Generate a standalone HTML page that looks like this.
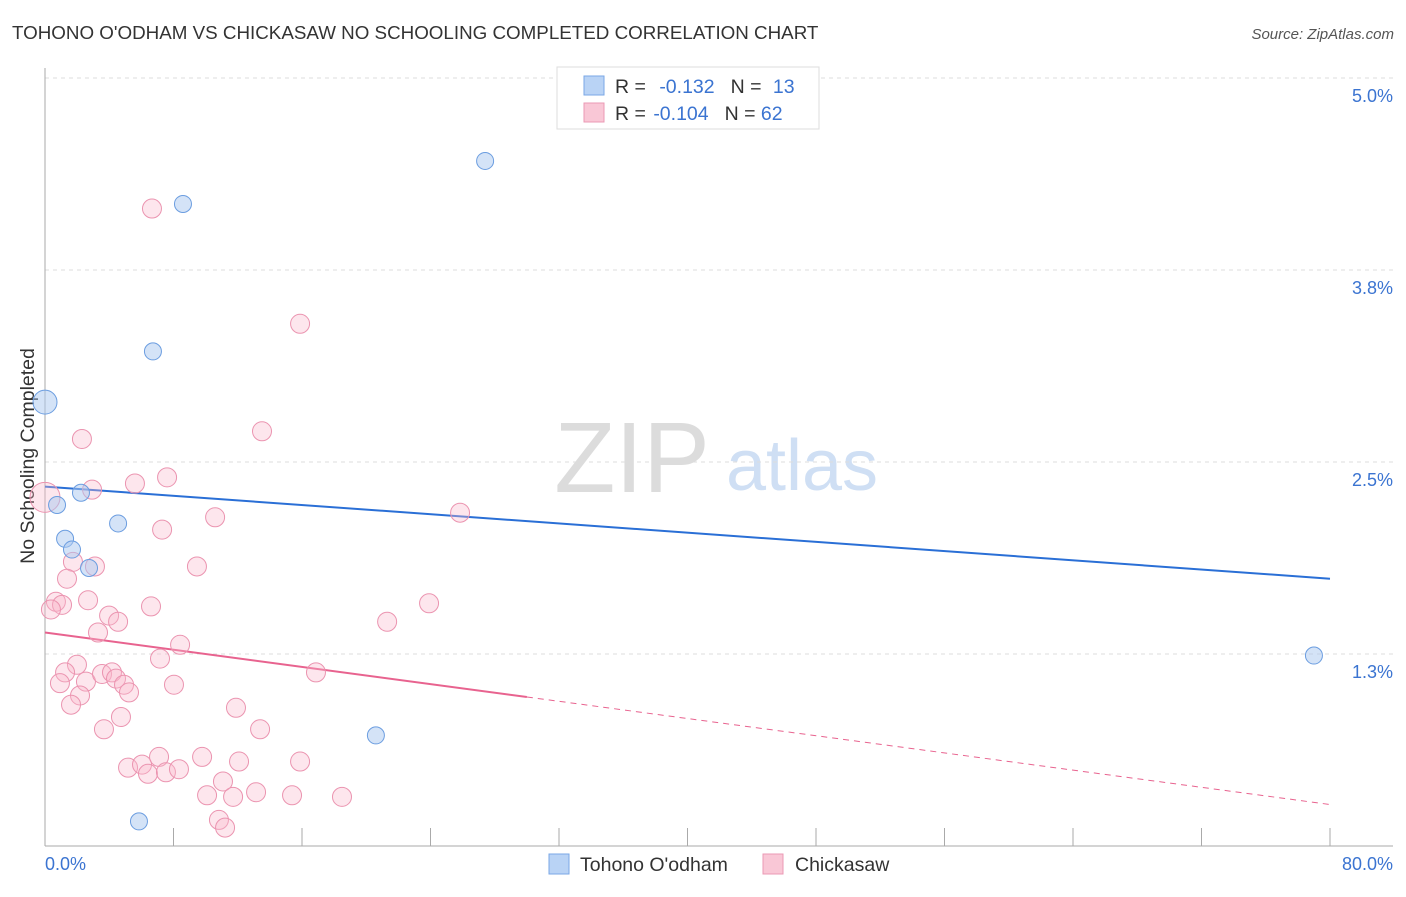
<!DOCTYPE html>
<html><head><meta charset="utf-8"><style>
body{margin:0;background:#fff;font-family:"Liberation Sans",sans-serif}
svg text{font-family:"Liberation Sans",sans-serif}
</style></head><body>
<svg id="chart" width="1406" height="892" xmlns="http://www.w3.org/2000/svg">
<text x="12" y="39" font-size="18.8" fill="#333">TOHONO O'ODHAM VS CHICKASAW NO SCHOOLING COMPLETED CORRELATION CHART</text>
<text x="1394" y="39" font-size="15" fill="#555" font-style="italic" text-anchor="end">Source: ZipAtlas.com</text>
<text transform="translate(34,456) rotate(-90)" font-size="19.5" fill="#333" text-anchor="middle">No Schooling Completed</text>
<g>
<text x="632" y="492" font-size="100" fill="#dcdcdc" font-family="Liberation Serif,serif" text-anchor="middle">ZIP</text>
<text x="802" y="490" font-size="72" fill="#cfdff4" text-anchor="middle">atlas</text>
</g>
<g id="grid"></g><g id="axes"></g><g id="trend"></g><g id="points"></g>
<g>
<rect x="557" y="67" width="262" height="62" fill="#fff" stroke="#ddd"/>
<rect x="584" y="76" width="20" height="19" fill="#b9d3f5" stroke="#7aa7e6"/>
<rect x="584" y="103" width="20" height="19" fill="#f9c7d6" stroke="#eb9ab4"/>
<text x="615" y="93" font-size="19.5" fill="#333">R = <tspan fill="#3b74d1" dx="8">-0.132</tspan><tspan fill="#333" dx="16">N = </tspan><tspan fill="#3b74d1" dx="6">13</tspan></text>
<text x="615" y="120" font-size="19.5" fill="#333">R = <tspan fill="#3b74d1" dx="2">-0.104</tspan><tspan fill="#333" dx="16">N = </tspan><tspan fill="#3b74d1">62</tspan></text>
</g>
<g>
<rect x="549" y="854" width="20" height="20" fill="#b9d3f5" stroke="#7aa7e6"/>
<text x="580" y="871" font-size="19.5" fill="#333">Tohono O'odham</text>
<rect x="763" y="854" width="20" height="20" fill="#f9c7d6" stroke="#eb9ab4"/>
<text x="795" y="871" font-size="19.5" fill="#333">Chickasaw</text>
</g>
</svg>
<script>
const yTicks=[1.25,2.5,3.75,5.0];
const yTickLabels=["1.3%","2.5%","3.8%","5.0%"];
const xTickLabels=["0.0%","80.0%"];
const blueX=[0,0.75,1.25,1.68,2.24,2.74,4.55,6.72,8.59,27.4,20.6,5.85,79.0];
const blueY=[2.89,2.22,2.00,1.93,2.30,1.81,2.10,3.22,4.18,4.46,0.72,0.16,1.24];
const pinkX=[6.66,15.88,0,2.30,13.51,2.93,5.60,7.60,10.59,7.29,25.84,1.74,3.11,9.46,1.37,0.68,1.06,0.37,2.68,6.60,23.91,3.99,4.55,21.30,3.30,8.41,7.16,16.87,1.99,1.25,0.93,2.55,3.55,4.17,4.42,4.92,5.23,8.03,2.18,1.62,11.89,4.73,3.67,13.39,5.17,6.04,7.10,6.41,7.53,8.34,9.78,12.08,15.88,11.08,10.09,11.71,13.14,15.38,18.49,10.83,11.21];
const pinkY=[4.15,3.40,2.27,2.65,2.70,2.32,2.36,2.40,2.14,2.06,2.17,1.85,1.82,1.82,1.74,1.59,1.57,1.54,1.60,1.56,1.58,1.50,1.46,1.46,1.39,1.31,1.22,1.13,1.18,1.13,1.06,1.07,1.12,1.13,1.09,1.05,1.00,1.05,0.98,0.92,0.90,0.84,0.76,0.76,0.51,0.53,0.58,0.47,0.48,0.50,0.58,0.55,0.55,0.42,0.33,0.32,0.35,0.33,0.32,0.17,0.12];
const blueTrend=[2.34,1.74];
const pinkTrend=[1.39,0.27];
const pinkSolidEnd=30;
const X=v=>45+v*(1285/80), Y=v=>846-v*153.6;
const NS="http://www.w3.org/2000/svg";
function mk(t,a,p){const e=document.createElementNS(NS,t);for(const k in a)e.setAttribute(k,a[k]);p.appendChild(e);return e;}
const grid=document.getElementById('grid'),axes=document.getElementById('axes');
yTicks.forEach((v,i)=>{
 const l=mk('line',{x1:45,x2:1393,y1:Y(v),y2:Y(v),stroke:'#ddd','stroke-dasharray':'4,4'},grid);
 
 
 const t=mk('text',{x:1393,y:Y(v)+24,'font-size':18,fill:'#3b74d1','text-anchor':'end'},axes);
 t.textContent=yTickLabels[i];
 
 
});
mk('line',{x1:45,x2:45,y1:68,y2:846,stroke:'#aaa'},axes);
mk('line',{x1:45,x2:1393,y1:846,y2:846,stroke:'#aaa'},axes);
for(let i=0;i<=10;i++){const t=mk('line',{x1:X(i*8),x2:X(i*8),y1:828,y2:846,stroke:'#aaa'},axes);
 
 }
const xl0=mk('text',{x:45,y:870,'font-size':18,fill:'#3b74d1'},axes);xl0.textContent=xTickLabels[0];


const xl1=mk('text',{x:1393,y:870,'font-size':18,fill:'#3b74d1','text-anchor':'end'},axes);xl1.textContent=xTickLabels[1];


const tr=document.getElementById('trend');
const bt=mk('line',{x1:X(0),x2:X(80),y1:Y(blueTrend[0]),y2:Y(blueTrend[1]),stroke:'#2a6fd6','stroke-width':2},tr);


const pAt=x=>pinkTrend[0]+(pinkTrend[1]-pinkTrend[0])*x/80;
const ps=mk('line',{x1:X(0),x2:X(pinkSolidEnd),y1:Y(pAt(0)),y2:Y(pAt(pinkSolidEnd)),stroke:'#e8638f','stroke-width':2},tr);


const pd=mk('line',{x1:X(pinkSolidEnd),x2:X(80),y1:Y(pAt(pinkSolidEnd)),y2:Y(pAt(80)),stroke:'#e8638f','stroke-width':1,'stroke-dasharray':'6,5'},tr);


const pts=document.getElementById('points');
pinkX.forEach((x,i)=>{const c=mk('circle',{cx:X(x),cy:Y(pinkY[i]),r:(x===0?15:9.5),fill:'rgba(248,182,202,0.35)',stroke:'#eb94b0','stroke-width':1},pts);
 
 });
blueX.forEach((x,i)=>{const c=mk('circle',{cx:X(x),cy:Y(blueY[i]),r:(x===0?12:8.5),fill:'rgba(170,200,240,0.5)',stroke:'#6b9de0','stroke-width':1},pts);
 
 });
</script>
</body></html>
